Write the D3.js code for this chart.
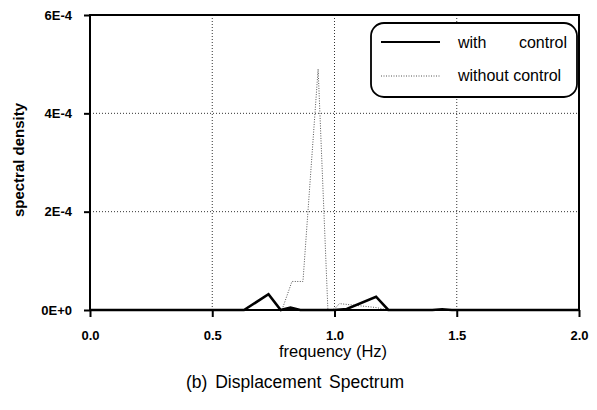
<!DOCTYPE html>
<html>
<head>
<meta charset="utf-8">
<script src="https://cdn.jsdelivr.net/npm/d3@7"></script>
<style>
  html, body { margin: 0; padding: 0; background: #fff; }
  svg { display: block; }
  text { font-family: "Liberation Sans", Arial, sans-serif; fill: #000; }
</style>
</head>
<body>
<svg id="chart" width="597" height="410"></svg>
<script>
// ---- data ----
const xTicks = [0, 0.5, 1.0, 1.5, 2.0];
const xTickLabels = ["0.0", "0.5", "1.0", "1.5", "2.0"];
const yTicks = [0, 2e-4, 4e-4, 6e-4];
const yTickLabels = ["0E+0", "2E-4", "4E-4", "6E-4"];

const withFreq = [0, 0.63, 0.73, 0.78, 0.82, 0.86, 1.0, 1.05, 1.17, 1.22, 1.40, 1.44, 1.48, 2.0];
const withVal  = [0, 0, 0.32e-4, 0, 0.05e-4, 0, 0, 0.02e-4, 0.27e-4, 0, 0, 0.015e-4, 0, 0];

const withoutFreq = [0, 0.63, 0.785, 0.826, 0.871, 0.933, 0.973, 1.0, 1.02, 1.17, 1.22, 2.0];
const withoutVal  = [0, 0.01e-4, 0, 0.58e-4, 0.58e-4, 4.9e-4, 0, 0.02e-4, 0.13e-4, 0.05e-4, 0, 0];

// ---- layout ----
const svg = d3.select("#chart");
const L = 90, R = 579, T = 15, B = 310;

const x = d3.scaleLinear().domain([0, 2]).range([L, R]);
const y = d3.scaleLinear().domain([0, 6e-4]).range([B, T]);

// gridlines
const grid = svg.append("g").attr("stroke", "#333").attr("stroke-width", 1).attr("stroke-dasharray", "1,2");
xTicks.slice(1, -1).forEach(v => {
  grid.append("line").attr("x1", x(v)).attr("x2", x(v)).attr("y1", T).attr("y2", B);
});
yTicks.slice(1, -1).forEach(v => {
  grid.append("line").attr("x1", L).attr("x2", R).attr("y1", y(v)).attr("y2", y(v));
});

// series lines
const line = d3.line().x(d => x(d[0])).y(d => y(d[1]));
svg.append("path")
  .datum(withoutFreq.map((f, i) => [f, withoutVal[i]]))
  .attr("d", line).attr("fill", "none").attr("stroke", "#555")
  .attr("stroke-width", 1).attr("stroke-dasharray", "1,1.5");
svg.append("path")
  .datum(withFreq.map((f, i) => [f, withVal[i]]))
  .attr("d", line).attr("fill", "none").attr("stroke", "#000")
  .attr("stroke-width", 2.6).attr("stroke-linejoin", "miter");

// frame
svg.append("rect").attr("x", L).attr("y", T).attr("width", R - L).attr("height", B - T)
  .attr("fill", "none").attr("stroke", "#000").attr("stroke-width", 2);

// axes
const xAxis = d3.axisBottom(x).tickValues(xTicks).tickFormat((d, i) => xTickLabels[i])
  .tickSize(7).tickPadding(14);
const gx = svg.append("g").attr("transform", `translate(0,${B})`).call(xAxis);
gx.select(".domain").remove();
gx.selectAll("line").attr("stroke", "#000").attr("stroke-width", 2);
gx.selectAll("text").attr("font-size", 13).attr("font-weight", "bold")
  .style("font-family", "'Liberation Sans', Arial, sans-serif");

const yAxis = d3.axisLeft(y).tickValues(yTicks).tickFormat((d, i) => yTickLabels[i])
  .tickSize(6).tickPadding(12);
const gy = svg.append("g").attr("transform", `translate(${L},0)`).call(yAxis);
gy.select(".domain").remove();
gy.selectAll("line").attr("stroke", "#000").attr("stroke-width", 2);
gy.selectAll("text").attr("font-size", 13).attr("font-weight", "bold")
  .style("font-family", "'Liberation Sans', Arial, sans-serif");

// axis titles
svg.append("text").attr("x", 333).attr("y", 357).attr("text-anchor", "middle")
  .attr("font-size", 16.5).text("frequency (Hz)");
svg.append("text").attr("transform", "translate(24,160) rotate(-90)").attr("text-anchor", "middle")
  .attr("font-size", 15).attr("font-weight", "bold").text("spectral density");
svg.append("text").attr("x", 295).attr("y", 388).attr("text-anchor", "middle")
  .attr("font-size", 17.5).attr("word-spacing", 3).text("(b) Displacement Spectrum");

// legend
const lg = svg.append("g");
lg.append("rect").attr("x", 371).attr("y", 23).attr("width", 206).attr("height", 74)
  .attr("rx", 13).attr("ry", 13).attr("fill", "#fff").attr("stroke", "#000").attr("stroke-width", 1.8);
lg.append("line").attr("x1", 381).attr("x2", 440).attr("y1", 42).attr("y2", 42)
  .attr("stroke", "#000").attr("stroke-width", 1.8);
lg.append("line").attr("x1", 381).attr("x2", 440).attr("y1", 76).attr("y2", 76)
  .attr("stroke", "#555").attr("stroke-width", 1).attr("stroke-dasharray", "1,1.5");
lg.append("text").attr("x", 458).attr("y", 48).attr("font-size", 16).text("with");
lg.append("text").attr("x", 567).attr("y", 48).attr("text-anchor", "end").attr("font-size", 16).text("control");
lg.append("text").attr("x", 458).attr("y", 81).attr("font-size", 16).text("without control");
</script>
</body>
</html>
